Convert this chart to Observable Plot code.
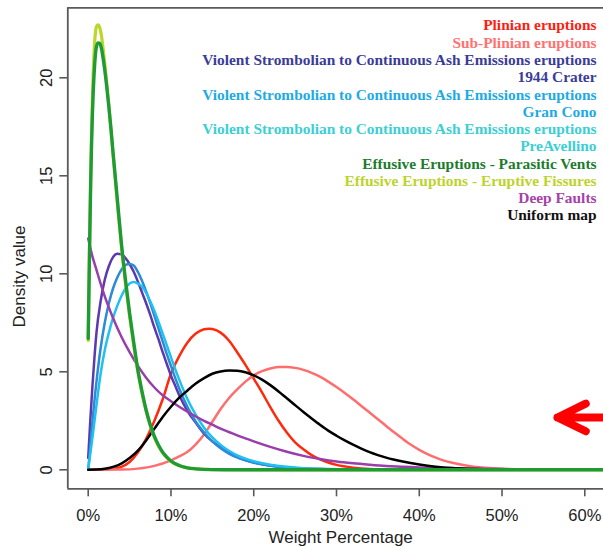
<!DOCTYPE html>
<html><head><meta charset="utf-8">
<script src="https://cdn.jsdelivr.net/npm/d3@7"></script>
<script src="https://cdn.jsdelivr.net/npm/@observablehq/plot@0.6"></script>
<style>html,body{margin:0;padding:0;background:#fff;overflow:hidden}</style>
</head><body><div id="chart"></div>
<script>
// ---- Data (x = weight %, y = density) ----
const plinianX = [0,2,3,4,5,6,7,8,9,10,11,12,13,14,14.6,15,16,17,18,19,20,21,22,23,24,25,26,27,28,29,30,32,34,37,40,65];
const plinianY = [0,0.01,0.05,0.15,0.4,0.88,1.58,2.5,3.6,4.9,5.8,6.5,6.95,7.17,7.2,7.18,7.0,6.6,6.0,5.35,4.65,3.95,3.2,2.5,1.9,1.4,1.05,0.75,0.53,0.37,0.25,0.11,0.04,0.01,0,0];

const subPlinianX = [0,4,6,8,10,11,12,13,14,15,16,17,18,19,20,21,22,23,24,25,26,27,28,29,30,31,32,33,34,35,36,37,38,39,40,41,42,43,44,45,46,47,48,50,53,56,65];
const subPlinianY = [0,0.01,0.06,0.2,0.48,0.68,0.92,1.3,1.8,2.45,3.1,3.65,4.1,4.5,4.82,5.03,5.17,5.24,5.25,5.2,5.1,4.95,4.75,4.5,4.22,3.92,3.6,3.26,2.92,2.58,2.24,1.9,1.58,1.28,1.02,0.8,0.62,0.47,0.36,0.27,0.19,0.14,0.1,0.05,0.02,0.01,0];

const crater1944X = [0,0.25,0.5,0.75,1,1.5,2,2.5,3,3.5,4,4.5,5,5.5,6,6.5,7,7.5,8,8.5,9,9.5,10,10.5,11,12,13,14,15,16,17,18,19,20,22,24,26,28,32,40,65];
const crater1944Y = [0.6,2.5,4.2,5.7,7.0,8.6,9.7,10.4,10.85,11.02,11.0,10.8,10.5,10.1,9.6,9.05,8.5,7.9,7.25,6.65,6.0,5.4,4.8,4.3,3.8,3.0,2.4,1.85,1.45,1.15,0.88,0.65,0.5,0.38,0.22,0.12,0.07,0.04,0.01,0,0];

const granConoX = [0,0.25,0.5,1,1.5,2,2.5,3,3.5,4,4.5,5,5.5,6,6.5,7,7.5,8,8.5,9,9.5,10,10.5,11,12,13,14,15,16,17,18,19,20,22,24,26,28,32,40,65];
const granConoY = [0,1.2,2.4,4.5,6.2,7.5,8.5,9.25,9.8,10.2,10.45,10.5,10.42,10.1,9.65,9.1,8.5,7.85,7.2,6.55,5.9,5.3,4.7,4.15,3.2,2.45,1.9,1.45,1.1,0.83,0.63,0.48,0.36,0.2,0.11,0.06,0.03,0.01,0,0];

const preAvellinoX = [0,0.25,0.5,1,1.5,2,2.5,3,3.5,4,4.5,5,5.5,6,6.5,7,7.5,8,8.5,9,9.5,10,10.5,11,12,13,14,15,16,17,18,19,20,22,24,26,28,32,40,65];
const preAvellinoY = [0,0.8,1.6,3.3,4.9,6.1,7.0,7.75,8.35,8.85,9.25,9.5,9.58,9.5,9.35,9.02,8.6,8.1,7.55,6.95,6.35,5.75,5.15,4.6,3.6,2.8,2.15,1.65,1.27,0.97,0.74,0.57,0.44,0.26,0.15,0.08,0.05,0.02,0,0];

const parasiticX = [0,0.1,0.2,0.3,0.4,0.5,0.6,0.7,0.8,0.9,1.0,1.2,1.4,1.6,1.8,2.0,2.25,2.5,2.75,3,3.5,4,4.5,5,5.5,6,6.5,7,7.5,8,8.5,9,9.5,10,11,12,13,15,20,65];
const parasiticY = [6.7,9.5,12.2,14.6,16.5,18.0,19.2,20.1,20.8,21.3,21.6,21.78,21.75,21.5,21.0,20.4,19.5,18.5,17.4,16.2,13.9,11.6,9.7,8.0,6.5,5.1,4.0,3.05,2.3,1.7,1.25,0.9,0.65,0.45,0.22,0.1,0.05,0.01,0,0];

const fissuresX = [0,0.1,0.2,0.3,0.4,0.5,0.6,0.7,0.8,0.9,1.0,1.2,1.4,1.6,1.8,2.0,2.25,2.5,2.75,3,3.5,4,4.5,5,5.5,6,6.5,7,7.5,8,8.5,9,9.5,10,11,12,13,15,20,65];
const fissuresY = [6.6,9.5,12.4,15.0,17.1,18.8,20.2,21.2,21.95,22.4,22.62,22.7,22.55,22.15,21.5,20.75,19.7,18.55,17.35,16.1,13.7,11.45,9.55,7.85,6.35,5.0,3.9,3.0,2.25,1.65,1.2,0.87,0.62,0.43,0.21,0.1,0.05,0.01,0,0];

const deepFaultsX = [0,0.5,1,1.5,2,3,4,5,6,7,8,9,10,11,12,13,14,15,16,17,18,19,20,22,24,26,28,30,32,34,36,38,40,43,46,50,55,60,65];
const deepFaultsY = [11.8,10.9,10.2,9.5,8.85,7.75,6.8,6.0,5.3,4.7,4.2,3.8,3.5,3.22,2.96,2.72,2.5,2.3,2.1,1.93,1.76,1.6,1.45,1.17,0.92,0.71,0.55,0.42,0.33,0.26,0.2,0.16,0.12,0.08,0.055,0.035,0.02,0.01,0.01];

const uniformX = [0,1,2,3,4,5,6,7,8,9,10,11,12,13,14,15,16,17,18,19,20,21,22,23,24,25,26,27,28,29,30,31,32,33,34,35,36,38,40,42,44,46,50,55,65];
const uniformY = [0,0.01,0.05,0.15,0.32,0.6,0.98,1.5,2.1,2.7,3.22,3.68,4.05,4.4,4.68,4.9,5.02,5.07,5.06,4.98,4.82,4.6,4.32,4.0,3.65,3.3,2.95,2.62,2.3,2.0,1.74,1.5,1.28,1.08,0.9,0.75,0.62,0.42,0.27,0.16,0.09,0.05,0.01,0,0];

const xTicks = [0,10,20,30,40,50,60];
const yTicks = [0,5,10,15,20];

const legendLabels = [
  "Plinian eruptions",
  "Sub-Plinian eruptions",
  "Violent Strombolian to Continuous Ash Emissions eruptions",
  "1944 Crater",
  "Violent Strombolian to Continuous Ash Emissions eruptions",
  "Gran Cono",
  "Violent Strombolian to Continuous Ash Emissions eruptions",
  "PreAvellino",
  "Effusive Eruptions - Parasitic Vents",
  "Effusive Eruptions - Eruptive Fissures",
  "Deep Faults",
  "Uniform map"
];
const legendColors = ["#ff1d12","#ff7272","#3a3c98","#3a3c98","#1eaae4","#1eaae4","#3ccfd3","#3ccfd3","#1c7b2d","#bdd32b","#a542a9","#111111"];

// annotation arrow (tail, tip at weight %, density)
const arrowData = [{x1: 78, x2: 56.7, y: 2.67}];

// ---- build tables ----
const series = [
  {name: "Plinian", X: plinianX, Y: plinianY, color: "#ff2a0c", w: 2.5},
  {name: "Sub-Plinian", X: subPlinianX, Y: subPlinianY, color: "#ff6e6e", w: 2.5},
  {name: "1944 Crater", X: crater1944X, Y: crater1944Y, color: "#5a3aae", w: 2.5},
  {name: "Gran Cono", X: granConoX, Y: granConoY, color: "#2c8ad6", w: 2.5},
  {name: "PreAvellino", X: preAvellinoX, Y: preAvellinoY, color: "#22c0f2", w: 2.5},
  {name: "Deep Faults", X: deepFaultsX, Y: deepFaultsY, color: "#993eaa", w: 2.5},
  {name: "Uniform map", X: uniformX, Y: uniformY, color: "#000000", w: 2.5},
  {name: "Eruptive Fissures", X: fissuresX, Y: fissuresY, color: "#bdd62c", w: 3.2},
  {name: "Parasitic Vents", X: parasiticX, Y: parasiticY, color: "#1f9b36", w: 3.4}
];

const frameColor = "#5a5a5a";
const xDomain = [-2.465, 62.26];
const yDomain = [-0.969, 23.571];

const lineMarks = series.map(s => Plot.line(s.X.map((x, i) => ({x, y: s.Y[i]})), {
  x: "x", y: "y", stroke: s.color, strokeWidth: s.w, curve: "monotone-x", clip: true
}));

const legendMarks = legendLabels.map((t, i) => Plot.text([t], {
  frameAnchor: "top-right", dx: -7, dy: 17.7 + i * 17.27,
  textAnchor: "end", lineAnchor: "middle",
  fill: legendColors[i], fontFamily: "'Liberation Serif', 'Times New Roman', serif",
  fontWeight: "bold", fontSize: 15.4
}));

const chart = Plot.plot({
  width: 603, height: 546,
  marginLeft: 67.3, marginRight: 0, marginTop: 7.3, marginBottom: 57.7,
  x: {domain: xDomain, axis: null},
  y: {domain: yDomain, axis: null},
  style: {background: "white", fontFamily: "'Liberation Sans', Arial, sans-serif", color: "#222"},
  marks: [
    ...lineMarks,
    Plot.ruleX([xDomain[0]], {stroke: frameColor, strokeWidth: 1.8}),
    Plot.ruleY([yDomain[0], yDomain[1]], {stroke: frameColor, strokeWidth: 1.8}),
    Plot.axisX(xTicks, {tickSize: 8, tickPadding: 12, tickFormat: d => d + "%", fontSize: 16.5, color: "#222", stroke: frameColor, strokeWidth: 1.6, label: null}),
    Plot.axisY(yTicks, {tickSize: 8, tickPadding: 7.5, tickRotate: -90, fontSize: 16.5, color: "#222", stroke: frameColor, strokeWidth: 1.6, label: null}),
    Plot.text(["Weight Percentage"], {frameAnchor: "bottom", dx: 5, dy: 48.3, fontSize: 17, textAnchor: "middle", lineAnchor: "middle", fill: "#222"}),
    Plot.text(["Density value"], {frameAnchor: "left", rotate: -90, dx: -48.5, dy: 28.2, fontSize: 17, textAnchor: "middle", lineAnchor: "middle", fill: "#222"}),
    ...legendMarks,
    Plot.arrow(arrowData, {x1: "x1", y1: "y", x2: "x2", y2: "y", stroke: "#ff0000", strokeWidth: 8, headAngle: 52, headLength: 5.9, strokeLinecap: "round", strokeLinejoin: "round"})
  ]
});
document.getElementById("chart").appendChild(chart);
</script>
</body></html>
